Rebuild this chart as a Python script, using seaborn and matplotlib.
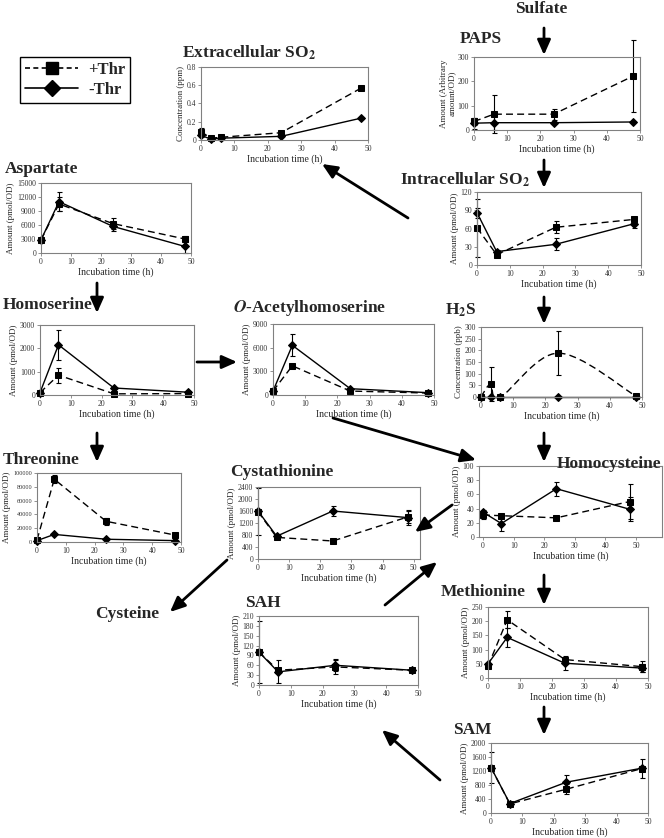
import numpy as np
import matplotlib
matplotlib.use('Agg')
import matplotlib.pyplot as plt
import seaborn as sns
from matplotlib.path import Path
from matplotlib.patches import PathPatch
from matplotlib.lines import Line2D
from matplotlib.ticker import FuncFormatter

# ---------------- data ----------------
t4 = [0, 6, 24, 48]
t5 = [0, 3, 6, 24, 48]

ext_plus = [0.09, 0.02, 0.03, 0.08, 0.57]
ext_plus_err = [0.04, 0, 0, 0.02, 0.01]
ext_minus = [0.05, 0.01, 0.02, 0.04, 0.24]
ext_minus_err = [0.02, 0, 0, 0.01, 0.01]

paps_plus = [35, 65, 65, 222]
paps_plus_err = [15, 78, 22, 148]
paps_minus = [28, 30, 30, 33]
paps_minus_err = [22, 30, 0, 0]

asp_plus = [2800, 10500, 6300, 3000]
asp_plus_err = [200, 1500, 1200, 600]
asp_minus = [2800, 11000, 5700, 1400]
asp_minus_err = [200, 2100, 900, 1500]

iso2_plus = [61, 17, 62, 75]
iso2_plus_err = [48, 3, 10, 4]
iso2_minus = [86, 22, 34, 68]
iso2_minus_err = [8, 3, 10, 7]

hse_plus = [100, 850, 50, 60]
hse_plus_err = [0, 320, 0, 0]
hse_minus = [100, 2150, 300, 120]
hse_minus_err = [0, 650, 0, 0]

oah_plus = [500, 3700, 500, 250]
oah_plus_err = [0, 0, 0, 0]
oah_minus = [500, 6300, 800, 300]
oah_minus_err = [0, 1400, 0, 0]

h2s_plus = [0, 55, 0, 188, 5]
h2s_plus_err = [0, 72, 0, 95, 0]
h2s_minus = [0, 0, 0, 0, 0]
h2s_minus_err = [0, 0, 0, 0, 0]

thr_plus = [3000, 91000, 30000, 10000]
thr_plus_err = [0, 6000, 5000, 2000]
thr_minus = [2000, 11000, 4000, 2000]
thr_minus_err = [0, 0, 0, 0]

cth_plus = [1580, 720, 600, 1400]
cth_plus_err = [780, 0, 0, 200]
cth_minus = [1600, 760, 1600, 1380]
cth_minus_err = [0, 60, 150, 250]

hcy_plus = [31, 30, 27, 50]
hcy_plus_err = [6, 0, 0, 24]
hcy_minus = [35, 19, 68, 39]
hcy_minus_err = [3, 10, 10, 17]

sah_plus = [100, 45, 55, 45]
sah_plus_err = [0, 0, 20, 0]
sah_minus = [100, 40, 60, 45]
sah_minus_err = [95, 35, 18, 0]

met_plus = [42, 205, 65, 40]
met_plus_err = [0, 30, 0, 20]
met_minus = [50, 143, 52, 35]
met_minus_err = [0, 33, 25, 15]

sam_plus = [1300, 260, 680, 1270]
sam_plus_err = [0, 0, 140, 280]
sam_minus = [1300, 270, 880, 1280]
sam_minus_err = [450, 0, 200, 0]

# ---------------- style ----------------
sns.set_style('white')
plt.rcParams['font.family'] = ['Liberation Serif', 'DejaVu Serif']
plt.rcParams['mathtext.fontset'] = 'stix'

W, H = 664, 838
fig = plt.figure(figsize=(W / 100, H / 100), dpi=100)


def smooth_path(x, y):
    # Excel-like smoothed line through the data points (cubic Bezier)
    x = np.asarray(x, float)
    y = np.asarray(y, float)
    verts = [(x[0], y[0])]
    codes = [Path.MOVETO]
    for i in range(len(x) - 1):
        xa, ya = (x[i - 1], y[i - 1]) if i > 0 else (x[i], y[i])
        xb, yb = (x[i + 2], y[i + 2]) if i + 2 < len(x) else (x[i + 1], y[i + 1])
        c1 = (x[i] + (x[i + 1] - xa) / 6, y[i] + (y[i + 1] - ya) / 6)
        c2 = (x[i + 1] - (xb - x[i]) / 6, y[i + 1] - (yb - y[i]) / 6)
        verts += [c1, c2, (x[i + 1], y[i + 1])]
        codes += [Path.CURVE4] * 3
    return Path(verts, codes)


def panel(box, t, plus, plus_err, minus, minus_err, ymax, ystep, ylabel,
          xlim=(0, 50), smooth=False, ysize=5.5):
    l, tp, r, b = box
    ax = fig.add_axes([l / W, 1 - b / H, (r - l) / W, (b - tp) / H])
    ax.set_facecolor('white')
    # -Thr : solid line with diamonds
    sns.lineplot(x=t, y=minus, ax=ax, color='black', lw=1.0, marker='D',
                 markersize=3.6, markeredgecolor='black', linestyle='-')
    # +Thr : dashed line with squares
    if smooth:
        sns.lineplot(x=t, y=plus, ax=ax, color='black', marker='s', markersize=4,
                     markeredgecolor='black', linestyle='')
        ax.add_patch(PathPatch(smooth_path(t, plus), fill=False, lw=1.0,
                               ls=(0, (5, 3)), edgecolor='black', clip_on=False))
    else:
        sns.lineplot(x=t, y=plus, ax=ax, color='black', lw=1.0, marker='s',
                     markersize=4, markeredgecolor='black', linestyle=(0, (5, 3)))
    for ln in ax.lines:
        ln.set_clip_on(False)
    ax.errorbar(t, minus, yerr=minus_err, fmt='none', ecolor='black',
                elinewidth=0.8, capsize=1.8, capthick=0.8, clip_on=False)
    ax.errorbar(t, plus, yerr=plus_err, fmt='none', ecolor='black',
                elinewidth=0.8, capsize=1.8, capthick=0.8, clip_on=False)
    ax.set_xlim(*xlim)
    ax.set_ylim(0, ymax)
    ax.set_xticks(range(0, 51, 10))
    ax.set_yticks(np.arange(0, ymax + ystep / 2, ystep))
    ax.yaxis.set_major_formatter(FuncFormatter(lambda v, p: '%g' % round(v, 6)))
    ax.tick_params(labelsize=5.5, length=2, width=0.6, color='#808080',
                   pad=1.5, labelcolor='#333333', direction='out',
                   bottom=True, left=True)
    ax.tick_params(axis='y', labelsize=ysize)
    for s in ax.spines.values():
        s.set_color('#808080')
        s.set_linewidth(0.8)
    ax.set_xlabel('Incubation time (h)', fontsize=7, labelpad=1)
    ax.set_ylabel(ylabel, fontsize=6.5, labelpad=1.5, linespacing=0.9)
    return ax


amt = 'Amount (pmol/OD)'
panel((201, 67, 368, 140), t5, ext_plus, ext_plus_err, ext_minus, ext_minus_err,
      0.8, 0.2, 'Concentration (ppm)')
panel((474, 57, 640, 130), t4, paps_plus, paps_plus_err, paps_minus, paps_minus_err,
      300, 100, 'Amount (Arbitrary\namount/OD)')
panel((41, 183, 191, 253), t4, asp_plus, asp_plus_err, asp_minus, asp_minus_err,
      15000, 3000, amt)
panel((477, 192, 641, 265), t4, iso2_plus, iso2_plus_err, iso2_minus, iso2_minus_err,
      120, 30, amt)
panel((40, 325, 194, 395), t4, hse_plus, hse_plus_err, hse_minus, hse_minus_err,
      3000, 1000, amt)
panel((273, 324, 434, 395), t4, oah_plus, oah_plus_err, oah_minus, oah_minus_err,
      9000, 3000, amt)
panel((481, 327, 642, 397), t5, h2s_plus, h2s_plus_err, h2s_minus, h2s_minus_err,
      300, 50, 'Concentration (ppb)', smooth=True)
panel((37, 473, 181, 542), t4, thr_plus, thr_plus_err, thr_minus, thr_minus_err,
      100000, 20000, amt, ysize=4.5)
panel((258, 487, 420, 559), t4, cth_plus, cth_plus_err, cth_minus, cth_minus_err,
      2400, 400, amt, xlim=(0, 52))
panel((479, 466, 662, 537), t4, hcy_plus, hcy_plus_err, hcy_minus, hcy_minus_err,
      100, 20, amt, xlim=(-1.3, 58.5))
panel((259, 616, 418, 685), t4, sah_plus, sah_plus_err, sah_minus, sah_minus_err,
      210, 30, amt)
panel((488, 607, 648, 678), t4, met_plus, met_plus_err, met_minus, met_minus_err,
      250, 50, amt)
panel((491, 743, 648, 813), t4, sam_plus, sam_plus_err, sam_minus, sam_minus_err,
      2000, 400, amt)

# overlay axes in pixel coordinates for titles and arrows (drawn on top)
bg = fig.add_axes([0, 0, 1, 1], zorder=10)
bg.set_xlim(0, W)
bg.set_ylim(H, 0)
bg.axis('off')

# ---------------- titles ----------------
tkw = dict(fontsize=12.5, fontweight='bold', va='center', ha='left')
bg.text(182, 53, r'Extracellular SO$_\mathbf{2}$', **tkw)
bg.text(515, 9, 'Sulfate', **tkw)
bg.text(460, 39, 'PAPS', **tkw)
bg.text(5, 169, 'Aspartate', **tkw)
bg.text(400, 180, r'Intracellular SO$_\mathbf{2}$', **tkw)
bg.text(3, 305, 'Homoserine', **tkw)
bg.text(233, 308, r'$\boldsymbol{O}$-Acetylhomoserine', **tkw)
bg.text(445, 310, r'H$_\mathbf{2}$S', **tkw)
bg.text(3, 460, 'Threonine', **tkw)
bg.text(230, 472, 'Cystathionine', **tkw)
bg.text(557, 464, 'Homocysteine', **tkw)
bg.text(95, 614, 'Cysteine', **tkw)
bg.text(245, 603, 'SAH', **tkw)
bg.text(441, 592, 'Methionine', **tkw)
bg.text(453, 730, 'SAM', **tkw)

# ---------------- arrows ----------------
akw = dict(arrowstyle='-|>,head_length=0.9,head_width=0.4', color='black',
           lw=2, shrinkA=0, shrinkB=0)
arrows = [((544, 28), (544, 55)), ((544, 160), (544, 188)),
          ((408, 218), (322, 164)), ((97, 283), (97, 313)),
          ((544, 297), (544, 324)), ((197, 362), (237, 362)),
          ((97, 433), (97, 462)), ((333, 418), (476, 460)),
          ((544, 433), (544, 462)), ((452, 505), (415, 532)),
          ((227, 560), (170, 612)), ((385, 605), (437, 562)),
          ((544, 575), (544, 605)), ((544, 707), (544, 735)),
          ((440, 780), (382, 730))]
for start, end in arrows:
    bg.annotate('', xy=end, xytext=start, xycoords='data', textcoords='data',
                arrowprops=akw)

# ---------------- legend ----------------
handles = [Line2D([], [], color='black', lw=1.2, ls=(0, (3, 2)), marker='s',
                  markersize=8),
           Line2D([], [], color='black', lw=1.2, ls='-', marker='D', markersize=8)]
fig.legend(handles, ['+Thr', '-Thr'], loc='upper left',
           bbox_to_anchor=(20 / W, 1 - 57 / H), borderaxespad=0, frameon=True,
           fancybox=False, edgecolor='black', framealpha=1, handlelength=3.2,
           borderpad=0.3, labelspacing=0.25, handletextpad=0.6,
           prop={'family': 'Liberation Serif', 'weight': 'bold', 'size': 12})

fig.savefig('out.png', dpi=100)
